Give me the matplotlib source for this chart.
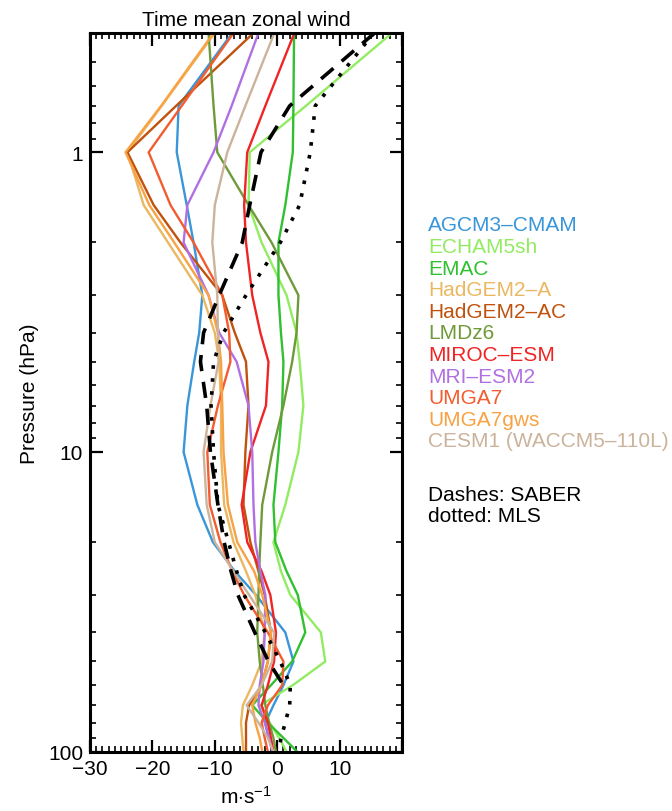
import numpy as np
import matplotlib
matplotlib.use("Agg")
import matplotlib.pyplot as plt
from matplotlib.ticker import MultipleLocator, FixedLocator, NullFormatter, FixedFormatter

plt.rcParams['font.family'] = ['Liberation Sans', 'DejaVu Sans']
plt.rcParams['mathtext.fontset'] = 'custom'
plt.rcParams['mathtext.rm'] = 'Liberation Sans'
plt.rcParams['mathtext.it'] = 'Liberation Sans:italic'

nan = np.nan
# pressure levels (hPa), top -> bottom
pressure = [0.4, 0.7, 1, 1.5, 2, 3, 4, 5, 7, 10, 15, 20, 25, 30, 40, 50, 60, 70, 80, 90, 100]

agcm3_cmam = [-7.2, -15.8, -16.1, -14.5, -13.4, -12.0, -12.5, -13.3, -14.4, -15.0, -12.8, -10.3, -6.8, -3.4, 1.3, 2.6, 1.0, -0.6, -1.9, -1.4, -0.6]
echam5sh   = [18.4, 4.6, -4.4, -4.6, -2.5, 1.5, 3.1, 3.6, 4.2, 3.4, 1.3, -0.6, 0.6, 2.1, 7.0, 7.7, 2.5, -2.7, -1.2, 0.3, 1.5]
emac       = [2.7, 2.6, 2.5, 1.3, 0.2, 0.2, 0.6, 1.0, 0.8, 0.2, -0.6, -0.3, 1.5, 3.3, 4.5, 2.4, -1.0, -4.0, -1.5, 1.0, 3.2]
hadgem2_a  = [-10.0, -18.5, -24.0, -21.4, -17.5, -12.0, -10.0, -9.3, -9.0, -9.0, -8.5, -7.0, -5.0, -3.5, -2.0, -2.5, -4.0, -5.5, -5.8, -5.6, -5.4]
hadgem2_ac = [-3.8, -16.2, -24.0, -19.8, -15.5, -8.8, -6.8, -5.0, -4.6, -5.1, -5.4, -4.3, -3.0, -2.0, -1.0, -1.5, -2.5, -4.5, -5.0, -5.0, -5.0]
lmdz6      = [-11.0, -10.2, -9.6, -4.6, -0.9, 3.4, 3.1, 2.4, 1.0, -0.8, -2.4, -2.7, -2.9, -3.0, -3.2, -2.8, -2.3, -1.9, -1.3, -0.6, -0.2]
miroc_esm  = [2.75, -1.9, -4.8, -5.3, -5.0, -4.0, -2.7, -1.4, -1.8, -4.3, -5.7, -4.8, -2.5, -1.1, -0.2, -0.5, -1.5, -2.5, -1.5, -1.0, -0.6]
mri_esm2   = [-3.0, -7.3, -10.2, -14.4, -15.0, -11.0, -9.3, -6.5, -4.6, -4.0, -3.8, -3.5, -2.7, -1.9, -2.0, -2.2, -2.8, -3.0, -2.0, -1.3, -0.8]
umga7      = [-7.0, -15.3, -20.6, -17.1, -13.4, -8.8, -7.7, -7.5, -9.5, -11.2, -10.8, -9.1, -7.2, -5.3, -1.5, 1.0, 0.8, -1.5, -2.5, -2.0, -1.5]
umga7gws   = [-10.2, -18.6, -24.3, -20.5, -16.5, -11.0, -9.5, -9.0, -8.8, -8.6, -7.9, -6.4, -3.7, -2.4, -1.0, -1.5, -2.5, -4.0, -3.5, -2.8, -2.4]
cesm1      = [-0.45, -5.1, -8.0, -10.0, -10.4, -9.6, -9.5, -9.4, -10.7, -11.8, -11.3, -10.0, -7.0, -4.5, -0.5, -0.8, -2.5, -4.9, -3.0, -1.5, -0.6]
saber      = [15.6, 2.0, -2.6, -4.4, -5.6, -9.3, -11.8, -12.3, -11.3, -10.7, -9.5, -8.5, -7.4, -6.3, -3.6, -1.4, 1.0, nan, nan, nan, nan]
mls        = [15.5, 6.1, 5.3, 3.6, 0.5, -5.0, -8.6, -10.2, -10.6, -10.2, -9.5, -7.8, -6.5, -5.3, -1.9, 0.5, 2.1, 2.0, 1.3, 0.6, 0.3]

model_names = ["AGCM3\u2013CMAM", "ECHAM5sh", "EMAC", "HadGEM2\u2013A", "HadGEM2\u2013AC", "LMDz6",
               "MIROC\u2013ESM", "MRI\u2013ESM2", "UMGA7", "UMGA7gws", "CESM1 (WACCM5\u2013110L)"]
model_data = [agcm3_cmam, echam5sh, emac, hadgem2_a, hadgem2_ac, lmdz6,
              miroc_esm, mri_esm2, umga7, umga7gws, cesm1]
colors = ["#3a96d8", "#92ec62", "#30c030", "#ebb862", "#c0520e", "#6f9a3a",
          "#f02424", "#b070e2", "#f25c30", "#f8a244", "#cbb39c"]

x_ticks = [-30, -20, -10, 0, 10, 20]
x_tick_labels = ["\u221230", "\u221220", "\u221210", "0", "10", ""]
y_ticks = [1, 10, 100]
y_tick_labels = ["1", "10", "100"]

fig = plt.figure(figsize=(6.72, 8.12), dpi=100)
ax = fig.add_axes([90/672, 1-752.7/812, (402-90)/672, (752.7-34)/812])

p = np.array(pressure)
for name, vals, c in zip(model_names, model_data, colors):
    ax.plot(vals, p, color=c, lw=1.7, solid_joinstyle='miter')

s = np.array(saber); m = ~np.isnan(s)
ax.plot(s[m], p[m], color='black', lw=2.6, dashes=(4.5, 3.0))
ax.plot(mls, p, color='black', lw=2.6, dashes=(1.0, 2.6))

ax.set_yscale('log')
ax.set_ylim(100, 0.4)
ax.set_xlim(-30, 20)
ax.yaxis.set_major_locator(FixedLocator(y_ticks))
ax.yaxis.set_major_formatter(FixedFormatter(y_tick_labels))
minor = [v * d for d in [0.1, 1, 10] for v in range(2, 10) if 0.4 <= v * d <= 100]
ax.yaxis.set_minor_locator(FixedLocator(minor))
ax.yaxis.set_minor_formatter(NullFormatter())
ax.xaxis.set_major_locator(FixedLocator(x_ticks))
ax.xaxis.set_major_formatter(FixedFormatter(x_tick_labels))
ax.xaxis.set_minor_locator(MultipleLocator(1))

ax.tick_params(which='both', direction='in', top=True, right=True, labelsize=15, width=1.6, colors='black')
ax.tick_params(which='major', length=9, pad=5)
ax.tick_params(which='minor', length=4.5, width=1.2)
for sp in ax.spines.values():
    sp.set_linewidth(2.2)

ax.set_title("Time mean zonal wind", fontsize=15, pad=6)
ax.set_ylabel("Pressure (hPa)", fontsize=15)
ax.yaxis.set_label_coords(-0.165, 0.5)
ax.set_xlabel(r"m$\cdot$s$^{-1}$", fontsize=15, labelpad=5)

y0 = 226
for i, (name, c) in enumerate(zip(model_names, colors)):
    fig.text(428/672, 1 - (y0 + i * 21.6) / 812, name, color=c, fontsize=15, va='center', ha='left')
fig.text(428/672, 1 - 496/812, "Dashes: SABER", color='black', fontsize=15, va='center', ha='left')
fig.text(428/672, 1 - 517/812, "dotted: MLS", color='black', fontsize=15, va='center', ha='left')

fig.savefig("out.png", dpi=100)
